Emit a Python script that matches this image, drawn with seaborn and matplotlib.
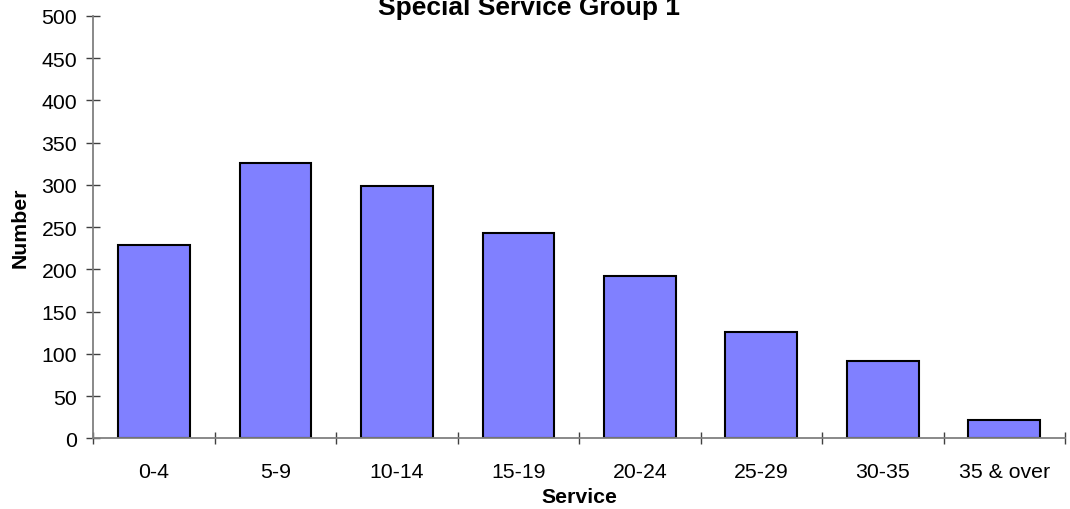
import matplotlib
matplotlib.use("Agg")
import matplotlib.pyplot as plt
import seaborn as sns
import numpy as np

categories = ["0-4", "5-9", "10-14", "15-19", "20-24", "25-29", "30-35", "35 & over"]
values = [229, 326, 299, 243, 192, 126, 92, 22]
y_ticks = list(range(0, 501, 50))

sns.set_style("white")
plt.rcParams["font.family"] = ["Liberation Sans", "DejaVu Sans"]
plt.rcParams["text.color"] = "black"
plt.rcParams["xtick.color"] = "black"
plt.rcParams["ytick.color"] = "black"
plt.rcParams["axes.labelcolor"] = "black"

fig = plt.figure(figsize=(10.7, 5.1), dpi=100)
ax = fig.add_axes([0.0872, 0.1386, 0.9081, 0.8281])

sns.barplot(x=categories, y=values, color="#8080FF", saturation=1,
            edgecolor="black", linewidth=1.5, width=0.59, ax=ax)

ax.set_xlim(-0.5, len(categories) - 0.5)
ax.set_ylim(0, 500)
ax.set_yticks(y_ticks)

for s in ["top", "right"]:
    ax.spines[s].set_visible(False)
for s in ["left", "bottom"]:
    ax.spines[s].set_color("#808080")
    ax.spines[s].set_linewidth(1.3)

fs = 15.3
ax.tick_params(axis="y", direction="inout", length=9.4, width=1.0,
               color="#404040", labelcolor="black", labelsize=fs, pad=7.0, left=True)
ax.set_xticks(np.arange(len(categories)))
ax.set_xticklabels(categories)
ax.set_xticks(np.arange(-0.5, len(categories)), minor=True)
ax.tick_params(axis="x", which="major", length=0, labelsize=fs, labelcolor="black", pad=17)
ax.tick_params(axis="x", which="minor", direction="inout", length=9, width=1.0,
               color="#404040", bottom=True)

ax.set_ylabel("Number", fontsize=fs, fontweight="bold", va="center", color="black")
ax.yaxis.set_label_coords(-0.0754, 0.5)
ax.set_xlabel("Service", fontsize=fs, fontweight="bold", color="black")
ax.xaxis.set_label_coords(0.5, -0.116)

fig.text(0.494, 1 - 15 / 510, "Special Service Group 1", ha="center",
         va="baseline", fontsize=19, fontweight="bold", color="black")

fig.savefig("out.png", dpi=100)
